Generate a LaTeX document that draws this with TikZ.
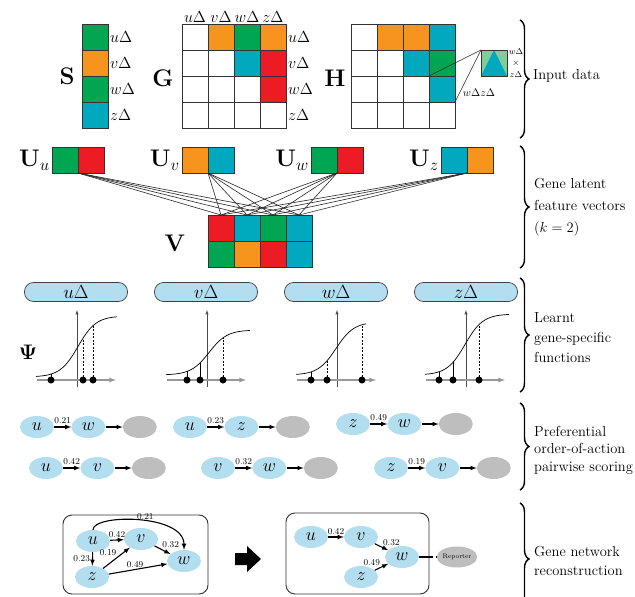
\documentclass[tikz,border=0pt]{standalone}
\usepackage{fix-cm}
\usepackage{amsmath,amssymb}
\usepackage{xcolor}
\usepackage{tikz}
\usetikzlibrary{positioning,arrows,calc,shapes.geometric,decorations.pathreplacing}

\definecolor{mgreen}{RGB}{0,166,81}
\definecolor{morange}{RGB}{247,148,29}
\definecolor{mred}{RGB}{237,28,36}
\definecolor{mcyan}{RGB}{0,169,190}
\definecolor{mixfill}{RGB}{128,204,155}
\definecolor{genefill}{RGB}{178,222,240}
\definecolor{sinkfill}{RGB}{190,190,190}

\newcommand{\fsz}[1]{\fontsize{#1}{#1}\selectfont}

\tikzset{
 cell/.style={rectangle,draw=black!80,line width=0.8pt,minimum size=26pt,inner sep=0pt,outer sep=0pt},
 mlabel/.style={inner sep=1pt,font=\fsz{16}},
 mname/.style={inner sep=2pt,font=\fsz{24}},
 link/.style={line width=0.6pt,black!85},
 fbox/.style={rectangle,rounded corners=9pt,draw=black!75,line width=0.7pt,fill=genefill,
   minimum width=103pt,minimum height=19pt,inner sep=0pt,font=\fsz{19}},
 yaxis/.style={-latex,line width=0.5pt,black!70},
 xaxis/.style={-latex,line width=1.3pt,black!40},
 sigm/.style={line width=0.7pt},
 stem/.style={line width=0.6pt},
 dashstem/.style={dash pattern=on 2pt off 1.5pt},
 gene/.style={ellipse,fill=genefill,minimum width=34pt,minimum height=22pt,inner sep=0pt,font=\fsz{18}},
 sink/.style={gene,fill=sinkfill},
 pw/.style={-latex,line width=1.1pt},
 wt/.style={font=\fsz{9},inner sep=1pt},
 netbox/.style={draw=black!80,line width=0.9pt,rounded corners=9pt},
 replink/.style={line width=2.2pt,dash pattern=on 14pt off 2.5pt},
 secbrace/.style={decorate,decoration={brace,amplitude=9pt},line width=1.4pt},
 sectext/.style={align=left,anchor=west,inner sep=0pt,font=\fontsize{14.5}{#1}\selectfont},
 sectext/.default=19}

\begin{document}
\begin{tikzpicture}[x=1pt,y=-1pt]
\useasboundingbox (0,0) rectangle (635,597);

% --- input data: S, G, H ---
\node[mname] (Sname) at (67,76) {$\mathbf{S}$};
\foreach \c [count=\i] in {mgreen,morange,mgreen,mcyan}
  \node[cell,fill=\c] (S\i) at (95,{11+26*\i}) {};
\foreach \g [count=\i] in {u,v,w,z}
  \node[mlabel,anchor=west] (Sr\i) at ([xshift=1pt]S\i.east) {$\g\Delta$};

\node[mname] (Gname) at (163,78) {$\mathbf{G}$};
\foreach \row [count=\r] in {{white,morange,mgreen,morange},{white,white,mcyan,mred},
                             {white,white,white,mred},{white,white,white,white}}
  \foreach \c [count=\k] in \row
    \node[cell,fill=\c] (G\r\k) at ({169+26*\k},{11+26*\r}) {};
\foreach \g [count=\i] in {u,v,w,z} {
  \node[mlabel,anchor=west] (Gr\i) at ([xshift=1pt]G\i4.east) {$\g\Delta$};
  \node[mlabel,anchor=south] (Gc\i) at (G1\i.north) {$\g\Delta$};
}

\node[mname] (Hname) at (335,78) {$\mathbf{H}$};
\foreach \row [count=\r] in {{white,morange,morange,mcyan},{white,white,mcyan,mgreen},
                             {white,white,white,mcyan},{white,white,white,white}}
  \foreach \c [count=\k] in \row
    \node[cell,fill=\c] (H\r\k) at ({338+26*\k},{11+26*\r}) {};

% zoomed product cell
\node[cell,fill=mixfill] (mix) at (494,63) {};
\fill[mcyan] (mix.south west) -- (mix.north) -- (mix.south east) -- cycle;
\draw[draw=black!80,line width=0.8pt] (mix.north west) rectangle (mix.south east);
\draw[link] (H24.south west) -- (mix.north west);
\draw[link] (H34.south east) -- (mix.north west);
\node[font=\fsz{8.5},inner sep=0pt] (mixw) at (516,52) {$w\Delta$};
\node[font=\fsz{8.5},inner sep=0pt] (mixx) at (516,63.5) {$\times$};
\node[font=\fsz{8.5},inner sep=0pt] (mixz) at (516,75) {$z\Delta$};
\node[font=\fsz{11},inner sep=0pt] (pairlbl) at (479,93) {$w\Delta z\Delta$};

% --- latent vectors ---
\foreach \g/\x/\ca/\cb in {u/65/mgreen/mred,v/195/morange/mcyan,w/324/mgreen/mred,z/454/mcyan/morange} {
  \node[cell,fill=\ca] (U\g1) at (\x,160) {};
  \node[cell,fill=\cb] (U\g2) at (\x+26,160) {};
  \node[mname,anchor=east] (U\g) at (U\g1.west) {$\mathbf{U}_\g$};
}
\node[mname] (Vname) at (175,243) {$\mathbf{V}$};
\foreach \row [count=\r] in {{mred,mcyan,mgreen,mcyan},{mgreen,morange,mred,mcyan}}
  \foreach \c [count=\k] in \row
    \node[cell,fill=\c] (V\r\k) at ({195+26*\k},{202+26*\r}) {};
\foreach \g in {u,v,w,z}
  \foreach \k in {1,...,4}
    \draw[link] (U\g1.south east) -- (V1\k.north);

% --- gene-specific functions ---
\foreach \g/\x in {u/76,v/206,w/336,z/466}
  \node[fbox] (f\g) at (\x,292) {$\g\Delta$};
\node[mname,font=\fsz{21}] (Psi) at (28,352) {$\mathbf{\Psi}$};

\foreach \ax/\lo/\hi/\c/\xe/\xa/\xb/\sb/\xc in {
    77/377/316/78/117/51/83/dashstem/93,
    207/375/330/209/250/187/200/solid/223,
    337/375/322/336/366/311/327/dashstem/362,
    466/375/314/465/509/439/453/solid/479} {
  \pgfmathsetmacro\xs{\ax-41}
  \pgfmathsetmacro\ya{\lo-(\lo-\hi)/(1+exp(-(\xa-\c)/9))}
  \pgfmathsetmacro\yb{\lo-(\lo-\hi)/(1+exp(-(\xb-\c)/9))}
  \pgfmathsetmacro\yc{\lo-(\lo-\hi)/(1+exp(-(\xc-\c)/9))}
  \draw[yaxis] (\ax,387) -- (\ax,310);
  \draw[xaxis] (\ax-40,380) -- (\ax+39,380);
  \draw[sigm] plot[domain=\xs:\xe,samples=60,smooth] (\x,{\lo-(\lo-\hi)/(1+exp(-(\x-\c)/9))});
  \draw[stem] (\xa,380) -- (\xa,\ya);
  \draw[stem,\sb] (\xb,380) -- (\xb,\yb);
  \draw[stem,dashstem] (\xc,380) -- (\xc,\yc);
  \foreach \d in {\xa,\xb,\xc}
    \fill (\d,380) circle (3.5pt);
}

% --- pairwise scoring ---
\foreach \n/\x/\y/\p/\q/\wv in {a/37/427/u/w/0.21,b/190/427/u/z/0.23,c/353/424/z/w/0.49,
                                d/46/468/u/v/0.42,e/218/468/v/w/0.32,f/391/468/z/v/0.19} {
  \node[gene] (\n1) at (\x,\y) {$\p$};
  \node[gene,right=17pt of \n1] (\n2) {$\q$};
  \node[sink,right=17pt of \n2] (\n3) {};
  \draw[pw] (\n1) -- node[wt,above=1.5pt]{\wv} (\n2);
  \draw[pw] (\n2) -- (\n3);
}

% --- network reconstruction ---
\draw[netbox] (63,515) rectangle (208,594);
\node[gene] (nu) at (93,541) {$u$};
\node[gene] (nv) at (141,539) {$v$};
\node[gene] (nw) at (184,561) {$w$};
\node[gene] (nz) at (92,577) {$z$};
\draw[pw] (nu) -- node[wt,above=1pt]{0.42} (nv);
\draw[pw] (nu) -- node[wt,left=1pt]{0.23} (nz);
\draw[pw] (nz) -- node[wt,above left,pos=0.55]{0.19} (nv);
\draw[pw] (nz) -- node[wt,above,pos=0.45]{0.49} (nw);
\draw[pw] (nv) -- node[wt,above right,pos=0.4]{0.32} (nw);
\draw[pw] (nu.north) .. controls +(0,-16) and +(0,-36) .. node[wt,pos=0.55,above]{0.21} (nw.north);

\fill (235,553) -- (247,553) -- (247,546) -- (261,559) -- (247,572) -- (247,565) -- (235,565) -- cycle;

\draw[netbox] (286,513) rectangle (429,594);
\node[gene] (ru) at (311,537) {$u$};
\node[gene] (rv) at (361,537) {$v$};
\node[gene] (rw) at (402,557) {$w$};
\node[gene] (rz) at (361,577) {$z$};
\node[sink,font=\fsz{6.5},minimum width=33pt,minimum height=21pt] (rep) at (457,557) {Reporter};
\draw[pw] (ru) -- node[wt,above=1pt]{0.42} (rv);
\draw[pw] (rv) -- node[wt,above right]{0.32} (rw);
\draw[pw] (rz) -- node[wt,above left]{0.49} (rw);
\draw[replink] (rw) -- (rep);

% --- section braces ---
\draw[secbrace] (520,20) -- (520,138);
\node[sectext] (t1) at (533,76) {Input data};
\draw[secbrace] (520,146) -- (520,268);
\node[sectext=22] (t2) at (534,207) {Gene latent\\feature vectors\\$(k=2)$};
\draw[secbrace] (520,278) -- (520,392);
\node[sectext=20] (t3) at (534,338) {Learnt\\gene-specific\\functions};
\draw[secbrace] (520,403) -- (520,490);
\node[sectext=17.5] (t4) at (534,450) {Preferential\\order-of-action\\pairwise scoring};
\draw[secbrace] (520,503) -- (520,615);
\node[sectext] (t5) at (534,561) {Gene network\\reconstruction};
\end{tikzpicture}
\end{document}
